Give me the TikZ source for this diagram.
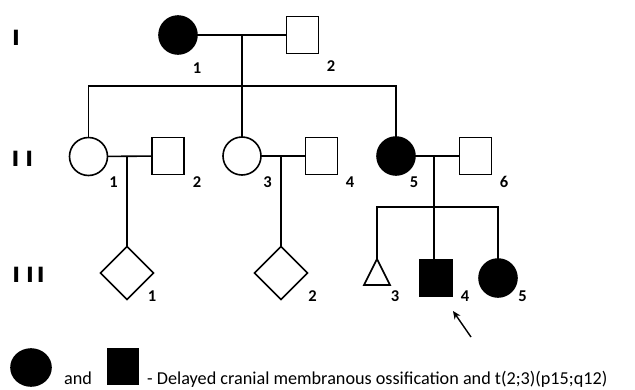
\documentclass[tikz,border=0pt]{standalone}
\usepackage{fontspec}
\setmainfont{Carlito}
\newfontfamily\romfont{DejaVu Sans}
\usetikzlibrary{shapes.geometric,arrows.meta}

\begin{document}
\begin{tikzpicture}[x=1pt,y=-1pt,
  pline/.style={line width=1.6pt},
  ind/.style={draw, line width=1.6pt, inner sep=0pt, outer sep=0pt},
  male/.style={ind, rectangle, minimum width=32pt, minimum height=37pt},
  female/.style={ind, circle, minimum size=38pt},
  unknown/.style={ind, diamond, minimum size=53pt},
  affected/.style={fill=black},
  idlab/.style={font=\bfseries\fontsize{16.5}{16.5}\selectfont, inner sep=0pt},
  genlab/.style={font=\romfont\bfseries\fontsize{21}{21}\selectfont, inner sep=0pt},
  legtext/.style={anchor=base west, inner sep=0pt, font=\fontsize{18.2}{20}\selectfont},
]
\useasboundingbox (0,0) rectangle (635,389);

% generation numerals
\node[genlab] (gI)   at (16,38)    {I};
\node[genlab] (gII)  at (22.5,159) {I\hspace{6pt}I};
\node[genlab] (gIII) at (28.5,275) {I\hspace{6pt}I\hspace{3pt}I};

% generation I
\node[female, affected] (I1) at (178,35) {};
\node[male]             (I2) at (302.5,35) {};
\node[idlab] at (197,68) {1};
\node[idlab] at (331,66) {2};

% generation II
\node[female]           (II1) at (88.5,156.5) {};
\node[male]             (II2) at (168,156) {};
\node[female]           (II3) at (242,156) {};
\node[male]             (II4) at (321.5,156) {};
\node[female, affected] (II5) at (396,156) {};
\node[male]             (II6) at (475.5,156) {};
\node[idlab] at (113.5,182) {1};
\node[idlab] at (197,182)   {2};
\node[idlab] at (267.5,182) {3};
\node[idlab] at (350,182)   {4};
\node[idlab] at (414,182)   {5};
\node[idlab] at (504,182)   {6};

% generation III
\node[unknown]        (III1) at (127,273) {};
\node[unknown]        (III2) at (281,273) {};
\coordinate           (III3) at (377,259);
\node[male, affected] (III4) at (436,278) {};
\node[female, affected] (III5) at (498,278) {};
\draw[ind, line join=miter] (III3) -- ++(13,26) -- ++(-26,0) -- cycle;
\node[idlab] at (152,296)   {1};
\node[idlab] at (312.5,296) {2};
\node[idlab] at (395,296)   {3};
\node[idlab] at (465,296)   {4};
\node[idlab] at (522.5,296) {5};

% couples and descent lines
\coordinate (m1) at (242,35);
\coordinate (s1) at (242,86);
\draw[pline] (I1) -- (I2);
\draw[pline] (m1) -- (II3.north);
\draw[pline] (II1.north) |- (s1) -| (II5.north);

\coordinate (m2) at (127,156);
\draw[pline] (II1) -- (II2);
\draw[pline] (m2) -- (III1.north);

\coordinate (m3) at (281,156);
\draw[pline] (II3) -- (II4);
\draw[pline] (m3) -- (III2.north);

\coordinate (m4) at (434,156);
\coordinate (s4) at (434,207);
\draw[pline] (II5) -- (II6);
\draw[pline] (m4) -- (s4) -- (s4 |- III4.north);
\draw[pline] (III3) |- (s4) -| (III5.north);

% proband arrow
\coordinate (arr) at (471,337);
\draw[line width=1.4pt, -{Stealth[length=8pt,width=7pt]}] (arr) -- (453,311);

% legend
\node[ind, affected, ellipse, minimum width=40pt, minimum height=37pt] (legF) at (31,367.5) {};
\node[ind, affected, rectangle, minimum width=30pt, minimum height=35pt] (legM) at (123,366.5) {};
\node[legtext] (legand) at (64,384) {and};
\node[legtext] (legtxt) at (147,384)
  {- Delayed cranial membranous ossification and t(2;3)(p15;q12)};
\end{tikzpicture}
\end{document}
